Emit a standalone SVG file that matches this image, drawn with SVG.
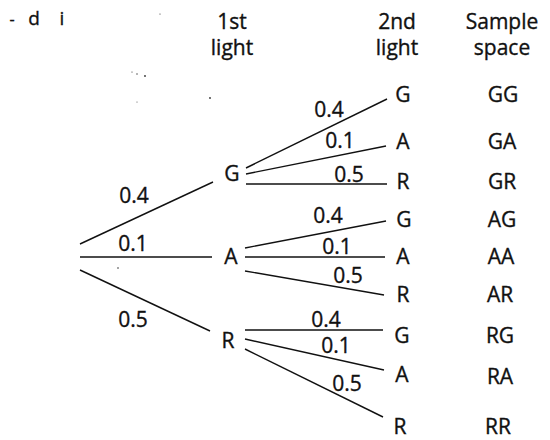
<svg xmlns="http://www.w3.org/2000/svg" width="550" height="440" viewBox="0 0 550 440">
  <style>
    text { font-family: "Open Sans", "Noto Sans", "Liberation Sans", sans-serif; font-size: 21px; fill: #111; stroke: #111; stroke-width: 0.35; text-anchor: middle; }
    .edge { stroke: #111; stroke-width: 1.4; fill: none; }
    .speck { fill: #333; }
  </style>
  <rect width="550" height="440" fill="#fff"/>

  <!-- stray print marks -->
  <g id="marks">
    <text x="12" y="25" style="font-size:16px">-</text>
    <text x="34" y="25" style="font-size:19px">d</text>
    <text x="62" y="25" style="font-size:19px">i</text>
    <circle class="speck" cx="160" cy="14" r="0.6"/>
    <circle class="speck" cx="132" cy="72" r="0.6"/>
    <circle class="speck" cx="137" cy="74" r="0.7"/>
    <circle class="speck" cx="145" cy="76" r="0.9"/>
    <circle class="speck" cx="137" cy="102" r="0.5"/>
    <circle class="speck" cx="210" cy="98" r="0.9"/>
    <circle class="speck" cx="118" cy="268" r="0.8"/>
  </g>

  <!-- column headings -->
  <g id="headings">
    <text x="232" y="29">1st</text>
    <text x="232" y="55">light</text>
    <text x="397" y="29">2nd</text>
    <text x="397" y="55">light</text>
    <text x="502" y="29">Sample</text>
    <text x="502" y="55">space</text>
  </g>

  <!-- branches -->
  <g id="connectors">
    <line class="edge" x1="80" y1="244" x2="213" y2="182"/>
    <line class="edge" x1="80" y1="257" x2="212" y2="257"/>
    <line class="edge" x1="80" y1="270" x2="210" y2="331"/>

    <line class="edge" x1="246" y1="168" x2="387" y2="99"/>
    <line class="edge" x1="246" y1="174" x2="386" y2="146"/>
    <line class="edge" x1="246" y1="184" x2="387" y2="184"/>

    <line class="edge" x1="245" y1="248" x2="386" y2="221"/>
    <line class="edge" x1="245" y1="257" x2="385" y2="257"/>
    <line class="edge" x1="245" y1="271" x2="384" y2="295"/>

    <line class="edge" x1="245" y1="330" x2="383" y2="330"/>
    <line class="edge" x1="245" y1="339" x2="384" y2="370"/>
    <line class="edge" x1="245" y1="349" x2="383" y2="417"/>
  </g>

  <!-- branch probabilities -->
  <g id="probabilities">
    <text x="134" y="203">0.4</text>
    <text x="133" y="251">0.1</text>
    <text x="133" y="327">0.5</text>

    <text x="329" y="117">0.4</text>
    <text x="340" y="148">0.1</text>
    <text x="349" y="182">0.5</text>

    <text x="328" y="223">0.4</text>
    <text x="337" y="254">0.1</text>
    <text x="348" y="283">0.5</text>

    <text x="326" y="327">0.4</text>
    <text x="336" y="353">0.1</text>
    <text x="347" y="391">0.5</text>
  </g>

  <!-- first light -->
  <g id="first-G"><text x="232" y="181">G</text></g>
  <g id="first-A"><text x="231" y="264">A</text></g>
  <g id="first-R"><text x="228" y="348">R</text></g>

  <!-- second light -->
  <g id="GG"><text x="403" y="102">G</text><text x="503" y="102">GG</text></g>
  <g id="GA"><text x="403" y="149">A</text><text x="502" y="149">GA</text></g>
  <g id="GR"><text x="403" y="189">R</text><text x="502" y="189">GR</text></g>
  <g id="AG"><text x="404" y="227">G</text><text x="502" y="227">AG</text></g>
  <g id="AA"><text x="403" y="264">A</text><text x="501" y="264">AA</text></g>
  <g id="AR"><text x="403" y="302">R</text><text x="500" y="302">AR</text></g>
  <g id="RG"><text x="402" y="343">G</text><text x="500" y="343">RG</text></g>
  <g id="RA"><text x="402" y="382">A</text><text x="500" y="384">RA</text></g>
  <g id="RR"><text x="400" y="434">R</text><text x="498" y="434">RR</text></g>
</svg>
